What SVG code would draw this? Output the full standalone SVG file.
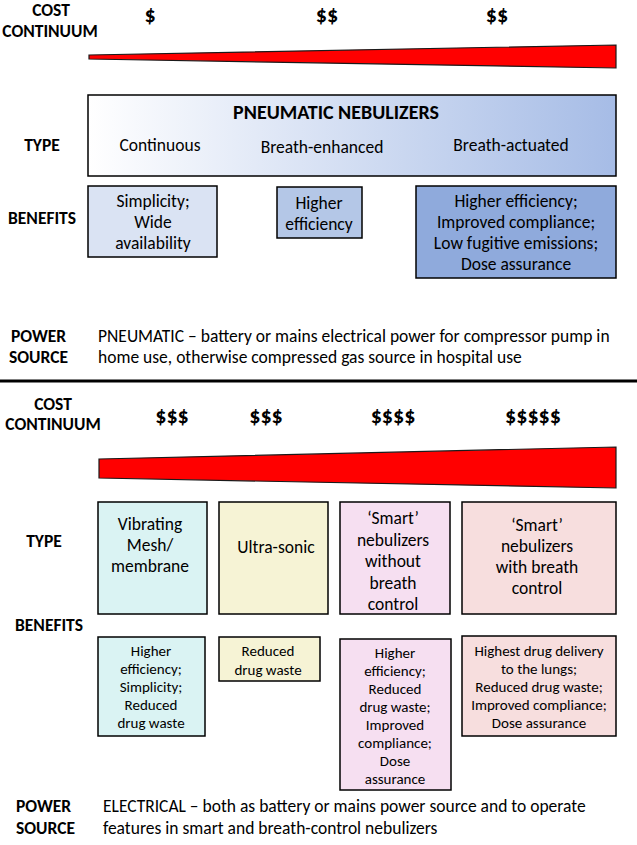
<svg xmlns="http://www.w3.org/2000/svg" width="637" height="845" viewBox="0 0 637 845">
<defs>
<style>
text{font-family:Carlito,"Liberation Sans",Arial,sans-serif;fill:#000}
.lbl{font-weight:bold;font-size:17.5px;text-anchor:middle}
.lbs{font-weight:bold;font-size:17.5px}
.cost{font-weight:bold;font-size:22px;text-anchor:middle}
.t{font-size:17.5px;text-anchor:middle}
.s{font-size:15px;text-anchor:middle}
.p{font-size:17.5px}
.box{stroke:#000;stroke-width:1.5}
.wedge{fill:#ff0000;stroke:#1a1a1a;stroke-width:1.2}
</style>
<linearGradient id="g1" x1="0" y1="0" x2="1" y2="0">
<stop offset="0" stop-color="#ffffff"/>
<stop offset="1" stop-color="#a6bce6"/>
</linearGradient>
</defs>
<rect width="637" height="845" fill="#ffffff"/>

<!-- Top section labels -->
<g id="top-labels">
<text class="lbl" x="51" y="16">COST</text>
<text class="lbl" x="50" y="37">CONTINUUM</text>
<text class="cost" x="150" y="22">$</text>
<text class="cost" x="327" y="22">$$</text>
<text class="cost" x="497" y="22">$$</text>
<text class="lbl" x="42" y="151">TYPE</text>
<text class="lbl" x="42" y="224">BENEFITS</text>
<text class="lbs" x="11" y="342">POWER</text>
<text class="lbs" x="9" y="363">SOURCE</text>
</g>
<polygon id="wedge1" class="wedge" points="89,55 616,45 616,68 89,59"/>

<g id="pneumatic">
<rect class="box" x="88" y="95" width="528" height="81" fill="url(#g1)"/>
<text x="336" y="119" style="font-weight:bold;font-size:20px;text-anchor:middle">PNEUMATIC NEBULIZERS</text>
<text class="t" x="160" y="151">Continuous</text>
<text class="t" x="322" y="153">Breath-enhanced</text>
<text class="t" x="511" y="151">Breath-actuated</text>
</g>

<g id="benefit-continuous">
<rect class="box" x="88" y="186" width="129" height="71" fill="#dae3f3"/>
<text class="t" x="153" y="207">Simplicity;</text>
<text class="t" x="153" y="228">Wide</text>
<text class="t" x="153" y="249">availability</text>
</g>
<g id="benefit-enhanced">
<rect class="box" x="277" y="187" width="85" height="51" fill="#b4c7e7"/>
<text class="t" x="319" y="209">Higher</text>
<text class="t" x="319" y="230">efficiency</text>
</g>
<g id="benefit-actuated">
<rect class="box" x="416" y="186" width="200" height="92" fill="#8faadc"/>
<text class="t" x="516" y="207">Higher efficiency;</text>
<text class="t" x="516" y="228">Improved compliance;</text>
<text class="t" x="516" y="249">Low fugitive emissions;</text>
<text class="t" x="516" y="270">Dose assurance</text>
</g>

<g id="power-pneumatic">
<text class="p" x="98" y="342">PNEUMATIC – battery or mains electrical power for compressor pump in</text>
<text class="p" x="98" y="363">home use, otherwise  compressed gas source in hospital use</text>
</g>

<line id="separator" x1="0" y1="381" x2="637" y2="381" stroke="#000" stroke-width="3"/>

<!-- Bottom section -->
<g id="bottom-labels">
<text class="lbl" x="53" y="410">COST</text>
<text class="lbl" x="53" y="430">CONTINUUM</text>
<text class="cost" x="172" y="423">$$$</text>
<text class="cost" x="266" y="423">$$$</text>
<text class="cost" x="393" y="423">$$$$</text>
<text class="cost" x="533" y="423">$$$$$</text>
<text class="lbl" x="44" y="547">TYPE</text>
<text class="lbl" x="49" y="631">BENEFITS</text>
<text class="lbs" x="16" y="812">POWER</text>
<text class="lbs" x="16" y="834">SOURCE</text>
</g>
<polygon id="wedge2" class="wedge" points="99,459 616,447 616,488 99,478"/>

<g id="type-mesh">
<rect class="box" x="98" y="502" width="109" height="112" fill="#daf3f3"/>
<text class="t" x="150" y="530">Vibrating</text>
<text class="t" x="150" y="551">Mesh/</text>
<text class="t" x="150" y="572">membrane</text>
</g>
<g id="type-ultrasonic">
<rect class="box" x="219" y="502" width="109" height="112" fill="#f6f3d5"/>
<text class="t" x="276" y="553">Ultra-sonic</text>
</g>
<g id="type-smart-without">
<rect class="box" x="340" y="502" width="110" height="112" fill="#f6dff1"/>
<text class="t" x="393" y="524">‘Smart’</text>
<text class="t" x="393" y="546">nebulizers</text>
<text class="t" x="393" y="567">without</text>
<text class="t" x="393" y="589">breath</text>
<text class="t" x="393" y="610">control</text>
</g>
<g id="type-smart-with">
<rect class="box" x="462" y="502" width="154" height="112" fill="#f7dede"/>
<text class="t" x="537" y="531">‘Smart’</text>
<text class="t" x="537" y="552">nebulizers</text>
<text class="t" x="537" y="573">with breath</text>
<text class="t" x="537" y="594">control</text>
</g>

<g id="benefit-mesh">
<rect class="box" x="98" y="637" width="107" height="99" fill="#daf3f3"/>
<text class="s" x="151" y="656">Higher</text>
<text class="s" x="151" y="674">efficiency;</text>
<text class="s" x="151" y="692">Simplicity;</text>
<text class="s" x="151" y="710">Reduced</text>
<text class="s" x="151" y="728">drug waste</text>
</g>
<g id="benefit-ultrasonic">
<rect class="box" x="219" y="637" width="101" height="44" fill="#f6f3d5"/>
<text class="s" x="268" y="656">Reduced</text>
<text class="s" x="268" y="675">drug waste</text>
</g>
<g id="benefit-smart-without">
<rect class="box" x="340" y="639" width="111" height="151" fill="#f6dff1"/>
<text class="s" x="395" y="658">Higher</text>
<text class="s" x="395" y="676">efficiency;</text>
<text class="s" x="395" y="694">Reduced</text>
<text class="s" x="395" y="712">drug waste;</text>
<text class="s" x="395" y="730">Improved</text>
<text class="s" x="395" y="748">compliance;</text>
<text class="s" x="395" y="766">Dose</text>
<text class="s" x="395" y="784">assurance</text>
</g>
<g id="benefit-smart-with">
<rect class="box" x="462" y="636" width="154" height="100" fill="#f7dede"/>
<text class="s" x="539" y="656">Highest drug delivery</text>
<text class="s" x="539" y="674">to the lungs;</text>
<text class="s" x="539" y="692">Reduced drug waste;</text>
<text class="s" x="539" y="710">Improved compliance;</text>
<text class="s" x="539" y="728">Dose assurance</text>
</g>

<g id="power-electrical">
<text class="p" x="103" y="812">ELECTRICAL – both as battery or mains power source and to operate</text>
<text class="p" x="103" y="834">features in smart and breath-control nebulizers</text>
</g>
</svg>
